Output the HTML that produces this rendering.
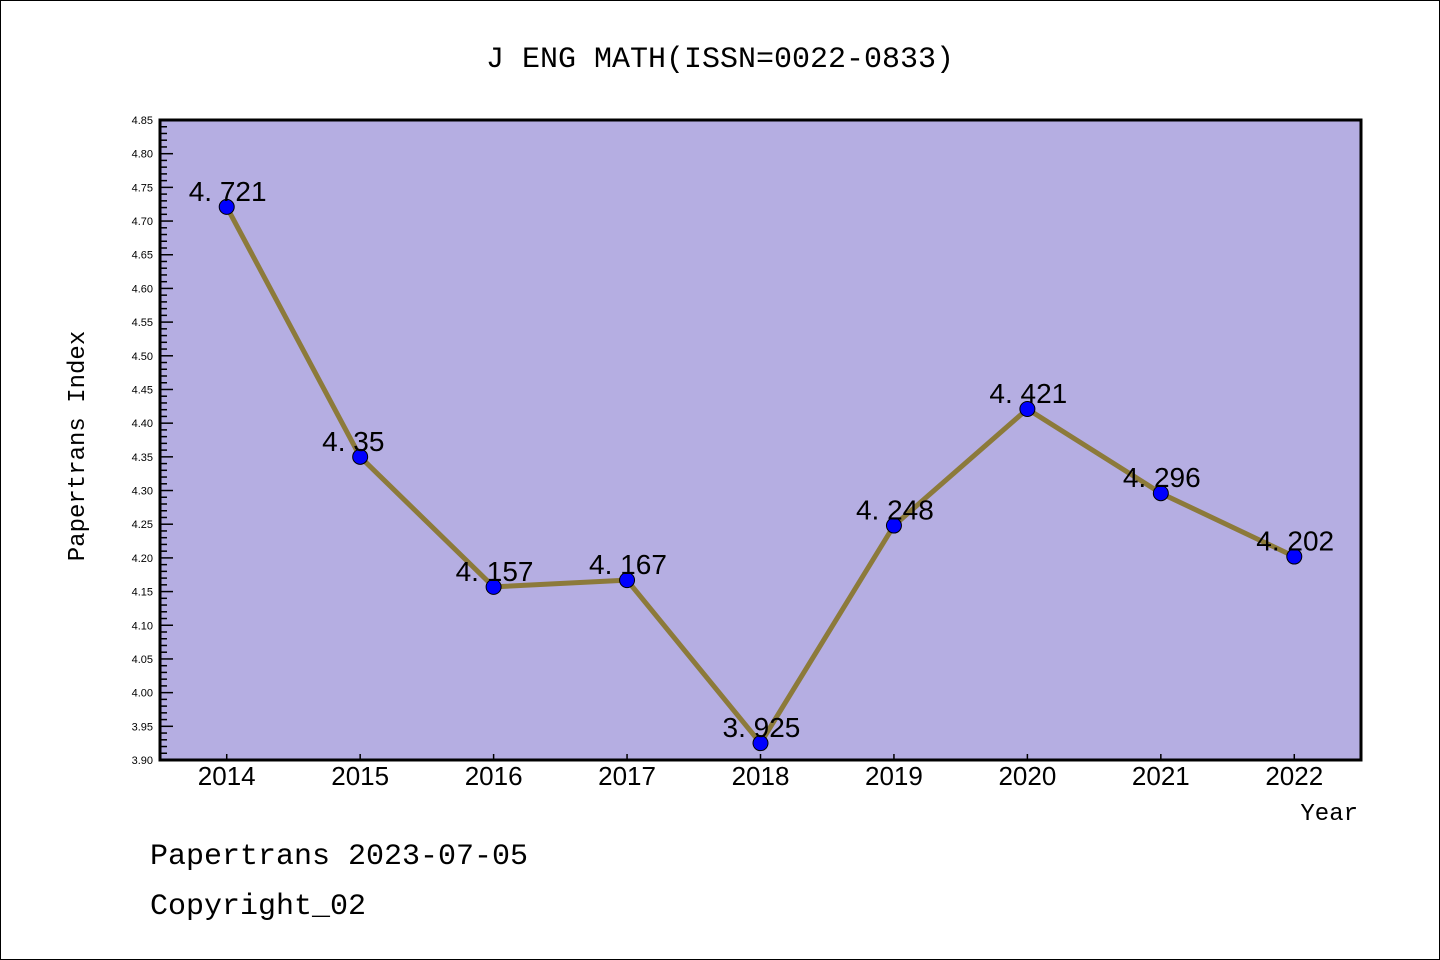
<!DOCTYPE html>
<html><head><meta charset="utf-8"><style>
body{margin:0;background:#fff;}
#wrap{position:relative;width:1440px;height:960px;box-sizing:border-box;border:1px solid #000;background:#fff;overflow:hidden;}
</style></head><body>
<div id="wrap">
<svg id="chart" width="1440" height="960" style="position:absolute;left:-1px;top:-1px">
<text x="720" y="67" text-anchor="middle" font-family="Liberation Mono, monospace" font-size="30" fill="#000">J ENG MATH(ISSN=0022-0833)</text>
<rect x="160" y="120" width="1201" height="640" fill="#b5aee2"/>
<g id="yaxis"></g>
<g id="xaxis"></g>
<g id="series"></g>
<rect x="160" y="120" width="1201" height="640" fill="none" stroke="#000" stroke-width="3"/>
<text transform="translate(84,446) rotate(-90)" text-anchor="middle" font-family="Liberation Mono, monospace" font-size="24" fill="#000">Papertrans Index</text>
<text x="1358" y="820" text-anchor="end" font-family="Liberation Mono, monospace" font-size="24" fill="#000">Year</text>
<text x="150" y="864" font-family="Liberation Mono, monospace" font-size="30" fill="#000">Papertrans 2023-07-05</text>
<text x="150" y="914" font-family="Liberation Mono, monospace" font-size="30" fill="#000">Copyright_02</text>
</svg>
</div>
<script>
const years = ["2014","2015","2016","2017","2018","2019","2020","2021","2022"];
const values = [4.721,4.35,4.157,4.167,3.925,4.248,4.421,4.296,4.202];
const valueLabels = ["4.721","4.35","4.157","4.167","3.925","4.248","4.421","4.296","4.202"];
const yTickLabels = ["3.90","3.95","4.00","4.05","4.10","4.15","4.20","4.25","4.30","4.35","4.40","4.45","4.50","4.55","4.60","4.65","4.70","4.75","4.80","4.85"];
const yMin = 3.90, yMax = 4.85;
const L=160,R=1361,T=120,B=760;
const NS="http://www.w3.org/2000/svg";
function yS(v){return B-(v-yMin)/(yMax-yMin)*(B-T);}
function xS(i){const s=(R-L)/years.length;return L+s*(i+0.5);}
function mk(tag,attrs,parent){const e=document.createElementNS(NS,tag);for(const k in attrs)e.setAttribute(k,attrs[k]);parent.appendChild(e);return e;}
const ya=document.getElementById('yaxis'),xa=document.getElementById('xaxis'),sr=document.getElementById('series');
for(let k=0;k<=Math.round((yMax-yMin)/0.01);k++){
  const v=yMin+k*0.01,y=yS(v);const major=k%5===0;
  const t=mk('line',{x1:L,x2:L+(major?13:7),y1:y,y2:y,stroke:'#000','stroke-width':1.5},ya);
  
  
}
yTickLabels.forEach(s=>{
  const t=mk('text',{x:L-7,y:yS(parseFloat(s))+4,'text-anchor':'end','font-family':'Liberation Sans, sans-serif','font-size':11,fill:'#000'},ya);
  t.textContent=s;
  
  
});
years.forEach((yr,i)=>{
  const x=xS(i);
  const tk=mk('line',{x1:x,x2:x,y1:B,y2:B-6,stroke:'#000','stroke-width':1.5},xa);
  
  
  const t=mk('text',{x:x,y:785,'text-anchor':'middle','font-family':'Liberation Sans, sans-serif','font-size':26,fill:'#000'},xa);
  t.textContent=yr;
  
  
});
const pts=values.map((v,i)=>xS(i)+','+yS(v)).join(' ');
const pl=mk('polyline',{points:pts,fill:'none',stroke:'#8c7a3a','stroke-width':5,'stroke-linejoin':'round'},sr);


values.forEach((v,i)=>{
  const c=mk('circle',{cx:xS(i),cy:yS(v),r:7.5,fill:'#0000ff',stroke:'#000','stroke-width':1},sr);
  
  
});
values.forEach((v,i)=>{
  const t=mk('text',{x:xS(i)-38,y:yS(v)-6,'font-family':'Liberation Sans, sans-serif','font-size':28,fill:'#000'},sr);
  t.textContent=valueLabels[i].replace('.','. ');
  
  
});
</script>
</body></html>
